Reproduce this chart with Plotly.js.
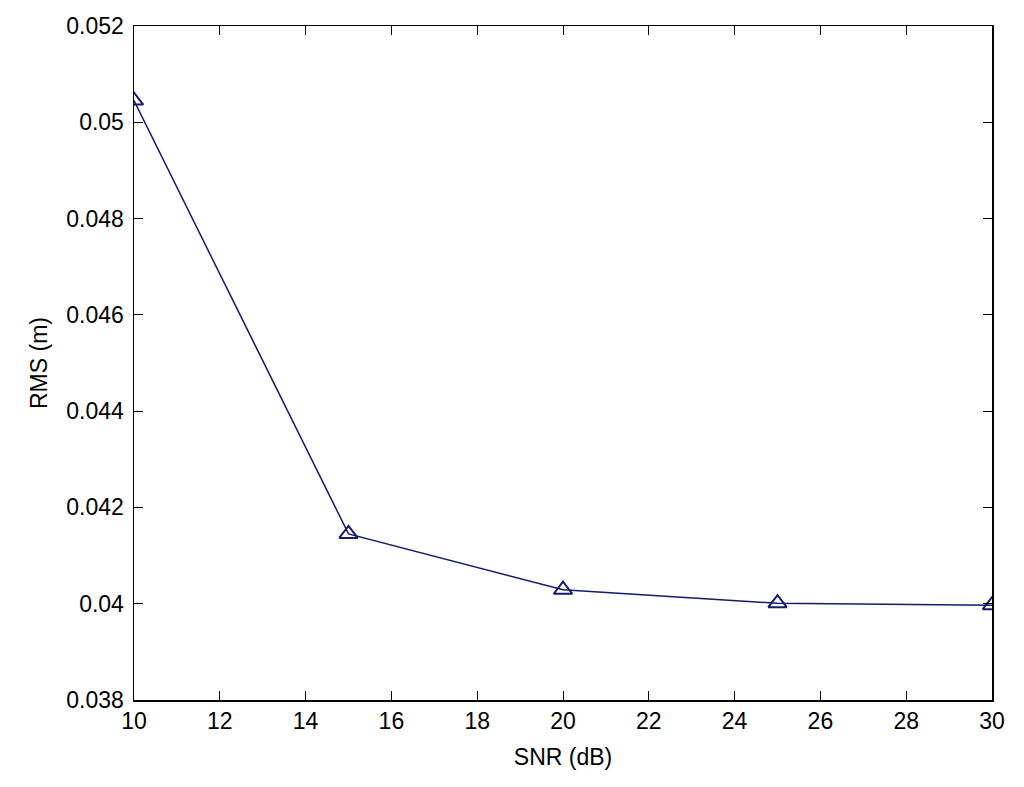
<!DOCTYPE html>
<html>
<head>
<meta charset="utf-8">
<script src="https://cdn.plot.ly/plotly-3.0.1.min.js"></script>
<style>html,body{margin:0;padding:0;background:#fff;}#chart{width:1024px;height:787px;}</style>
</head>
<body>
<div id="chart"></div>
<script>
const snr = [10, 15, 20, 25, 30];
const rms = [0.05045, 0.04145, 0.04029, 0.04001, 0.03997];
const xTicks = [10, 12, 14, 16, 18, 20, 22, 24, 26, 28, 30];
const yTicks = [0.038, 0.04, 0.042, 0.044, 0.046, 0.048, 0.05, 0.052];
const yTickText = ['0.038', '0.04', '0.042', '0.044', '0.046', '0.048', '0.05', '0.052'];

const trace = {
  x: snr, y: rms, type: 'scatter', mode: 'lines+markers',
  line: {color: '#141a6e', width: 1.5},
  marker: {symbol: 'triangle-up-open', size: 16, color: '#141a6e', line: {width: 2, color: '#141a6e'}},
  showlegend: false
};
const fontF = 'Liberation Sans, Arial, sans-serif';
const layout = {
  width: 1024, height: 787,
  margin: {l: 134, r: 32, t: 26, b: 87},
  paper_bgcolor: '#fff', plot_bgcolor: '#fff',
  font: {family: fontF, size: 23, color: '#000'},
  xaxis: {
    range: [10, 30], tickvals: xTicks, ticktext: xTicks.map(String),
    ticks: 'inside', ticklen: 9, tickcolor: '#000', tickwidth: 1,
    showline: true, linecolor: '#000', linewidth: 1.5, mirror: 'ticks',
    showgrid: false, zeroline: false,
    title: {text: 'SNR (dB)', font: {family: fontF, size: 23}, standoff: 16}
  },
  yaxis: {
    range: [0.038, 0.052], tickvals: yTicks, ticktext: yTickText,
    ticks: 'inside', ticklen: 9, tickcolor: '#000', tickwidth: 1,
    ticklabelstandoff: 4,
    showline: true, linecolor: '#000', linewidth: 1.5, mirror: 'ticks',
    showgrid: false, zeroline: false,
    title: {text: 'RMS (m)', font: {family: fontF, size: 23}, standoff: 12}
  }
};
Plotly.newPlot('chart', [trace], layout, {displayModeBar: false, staticPlot: true});
</script>
</body>
</html>
